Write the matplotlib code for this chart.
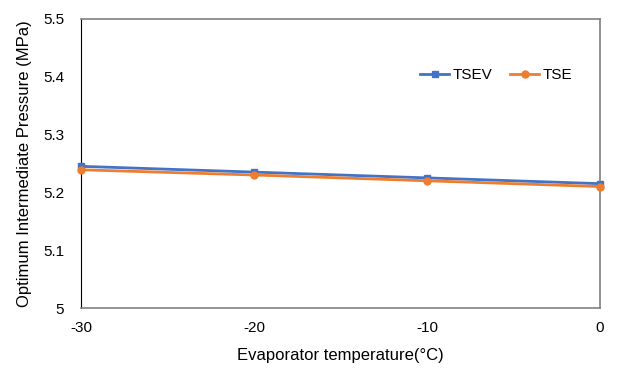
import matplotlib.pyplot as plt

# данні з графіка
evap_temp = [-30, -20, -10, 0]
x_labels = ["-30", "-20", "-10", "0"]
tsev = [5.245, 5.235, 5.225, 5.215]
tse = [5.239, 5.230, 5.220, 5.210]
y_ticks = [5, 5.1, 5.2, 5.3, 5.4, 5.5]
y_labels = ["5", "5.1", "5.2", "5.3", "5.4", "5.5"]

plt.rcParams["font.family"] = ["Liberation Sans", "DejaVu Sans"]

fig = plt.figure(figsize=(6.23, 3.77), dpi=100)
ax = fig.add_axes([0.130, 0.183, 0.833, 0.767])

ax.plot(evap_temp, tsev, color="#4472C4", marker="s", markersize=5, linewidth=2,
        label="TSEV", clip_on=False, zorder=3)
ax.plot(evap_temp, tse, color="#ED7D31", marker="o", markersize=5, linewidth=2,
        label="TSE", clip_on=False, zorder=3)

ax.set_xlim(-30, 0)
ax.set_ylim(5, 5.5)
ax.set_xticks(evap_temp)
ax.set_xticklabels(x_labels)
ax.set_yticks(y_ticks)
ax.set_yticklabels(y_labels)
ax.tick_params(axis="both", length=0, labelsize=11)
ax.tick_params(axis="x", pad=9)
ax.tick_params(axis="y", pad=12)

ax.spines["left"].set_color("black")
for s in ["top", "right", "bottom"]:
    ax.spines[s].set_color("#808080")
    ax.spines[s].set_linewidth(1.2)

ax.set_xlabel("Evaporator temperature(°C)", fontsize=12, labelpad=10)
ax.set_ylabel("Optimum Intermediate Pressure (MPa)", fontsize=12, labelpad=8)

ax.legend(loc="center", bbox_to_anchor=(0.80, 0.806), ncol=2, frameon=False,
          fontsize=11, handlelength=1.9, columnspacing=1.2, handletextpad=0.2)

fig.savefig("out.png", dpi=100)
plt.close()
